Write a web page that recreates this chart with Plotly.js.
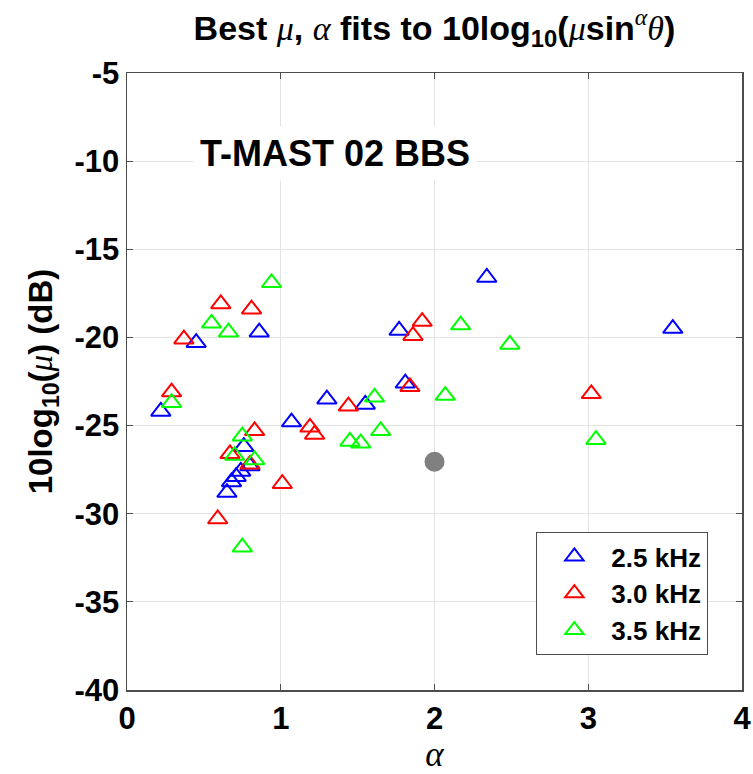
<!DOCTYPE html>
<html>
<head>
<meta charset="utf-8">
<script src="https://cdn.plot.ly/plotly-3.0.1.min.js"></script>
<style>html,body{margin:0;padding:0;background:#fff;}#plot{width:753px;height:774px;}</style>
</head>
<body>
<div id="plot"></div>
<script>
// 2.5 kHz
const alpha25 = [0.22, 0.45, 0.86, 1.07, 1.30, 1.55, 1.77, 1.81, 2.34, 3.55, 0.76, 0.80, 0.74, 0.71, 0.68, 0.65];
const mu25    = [-24.2, -20.3, -19.7, -24.8, -23.5, -23.8, -19.6, -22.6, -16.6, -19.5, -26.2, -27.3, -27.6, -27.9, -28.2, -28.8];
// 3.0 kHz
const alpha30 = [0.29, 0.37, 0.61, 0.81, 0.83, 0.67, 0.80, 1.01, 0.59, 1.19, 1.22, 1.44, 1.84, 1.86, 1.92, 3.02];
const mu30    = [-23.1, -20.1, -18.1, -18.4, -25.3, -26.6, -27.2, -28.3, -30.3, -25.1, -25.5, -23.9, -22.8, -19.9, -19.1, -23.2];
// 3.5 kHz
const alpha35 = [0.29, 0.55, 0.66, 0.94, 0.75, 0.70, 0.83, 0.75, 1.45, 1.52, 1.61, 1.65, 2.07, 2.17, 2.49, 3.05];
const mu35    = [-23.7, -19.2, -19.7, -16.9, -25.6, -26.7, -26.95, -31.9, -25.9, -26.0, -23.4, -25.3, -23.3, -19.3, -20.4, -25.8];
// reference point
const refAlpha = [2.0];
const refMu = [-27.05];

const seriesNames = ['2.5 kHz', '3.0 kHz', '3.5 kHz'];
const seriesColors = ['#0000ff', '#ff0000', '#00ff00'];
const xTicks = [0, 1, 2, 3, 4];
const yTicks = [-40, -35, -30, -25, -20, -15, -10, -5];

const serif = 'Liberation Serif, Times New Roman, serif';
const sans = 'Liberation Sans, Arial, Helvetica, sans-serif';
function gk(s){ return '<span style="font-family:' + serif + ';font-weight:normal"><i>' + s + '</i></span>'; }

const xs = [alpha25, alpha30, alpha35];
const ys = [mu25, mu30, mu35];
const traces = xs.map((x, i) => ({
  x: x, y: ys[i], type: 'scatter', mode: 'markers', name: seriesNames[i],
  marker: {symbol: 'triangle-up-open', size: 17, color: seriesColors[i], line: {width: 2, color: seriesColors[i]}},
  cliponaxis: false
}));
traces.push({
  x: refAlpha, y: refMu, type: 'scatter', mode: 'markers', showlegend: false,
  marker: {symbol: 'circle', size: 20, color: '#808080'}
});

const axisCommon = {
  showline: true, mirror: 'ticks', linecolor: '#4d4d4d', linewidth: 1.5,
  ticks: 'inside', ticklen: 6, tickwidth: 1.2, tickcolor: '#4d4d4d',
  showgrid: true, gridcolor: '#e3e3e3', gridwidth: 1, zeroline: false,
  tickfont: {family: sans, size: 31, color: '#000', weight: 'bold'}
};

const layout = {
  width: 753, height: 774,
  margin: {l: 127, r: 11, t: 73, b: 84},
  paper_bgcolor: '#fff', plot_bgcolor: '#fff',
  title: {
    text: 'Best ' + gk('μ') + ', ' + gk('α') + ' fits to 10log<sub>10</sub>(' + gk('μ') + 'sin<sup>' + gk('α') + '</sup>' + gk('θ') + ')',
    font: {family: sans, size: 34, color: '#000', weight: 'bold'},
    x: 0.5, xref: 'paper', xanchor: 'center', y: 0.964, yref: 'container', yanchor: 'middle'
  },
  xaxis: Object.assign({}, axisCommon, {
    range: [0, 4], tickvals: xTicks, ticktext: xTicks.map(String),
    title: {text: '<i>α</i>', font: {family: serif, size: 35, color: '#000'}, standoff: 3}
  }),
  yaxis: Object.assign({}, axisCommon, {
    range: [-40, -5], tickvals: yTicks, ticktext: yTicks.map(String),
    title: {text: '10log<sub>10</sub>(' + gk('μ') + ') (dB)', font: {family: sans, size: 33, color: '#000', weight: 'bold'}, standoff: 12}
  }),
  legend: {
    x: 0.945, xanchor: 'right', y: 0.057, yanchor: 'bottom',
    bgcolor: '#fff', bordercolor: '#4d4d4d', borderwidth: 1.2,
    font: {family: sans, size: 26, color: '#000', weight: 'bold'},
    itemwidth: 64
  },
  annotations: [{
    x: 1.35, y: -9.55, xref: 'x', yref: 'y', xanchor: 'center', yanchor: 'middle',
    text: 'T-MAST 02 BBS', showarrow: false, bgcolor: '#fff', borderpad: 6,
    font: {family: sans, size: 36, color: '#000', weight: 'bold'}
  }],
  showlegend: true
};

Plotly.newPlot('plot', traces, layout, {displayModeBar: false, staticPlot: true});
</script>
</body>
</html>
